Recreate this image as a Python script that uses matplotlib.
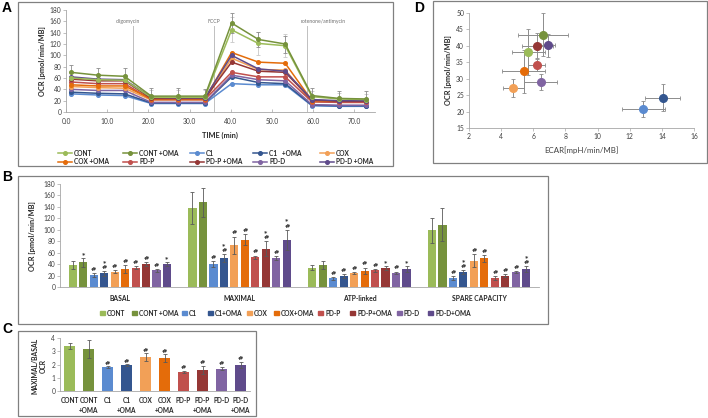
import matplotlib
matplotlib.use('Agg')
import matplotlib.pyplot as plt
from matplotlib.patches import Rectangle
from matplotlib.lines import Line2D
import numpy as np

# ---------------- DATA ----------------
groups = ['CONT', 'CONT +OMA', 'C1', 'C1 +OMA', 'COX', 'COX +OMA',
          'PD-P', 'PD-P +OMA', 'PD-D', 'PD-D +OMA']
legendA_labels = ['CONT', 'CONT +OMA', 'C1', 'C1   +OMA', 'COX',
                  'COX +OMA', 'PD-P', 'PD-P +OMA', 'PD-D', 'PD-D +OMA']
legendB_labels = ['CONT', 'CONT +OMA', 'C1', 'C1+OMA', 'COX', 'COX+OMA',
                  'PD-P', 'PD-P+OMA', 'PD-D', 'PD-D+OMA']
colors = ['#9BBB59', '#76923C', '#5B8BD0', '#34568F', '#F2A057', '#E46C0A',
          '#C0504D', '#953735', '#8064A2', '#5F4B8B']

# Panel A: OCR time course
times = [1.2, 7.7, 14.2, 20.7, 27.2, 33.7, 40.2, 46.7, 53.2, 59.7, 66.2, 72.7]
A_cont      = [60, 57, 56, 26, 26, 26, 145, 121, 117, 27, 23, 22]
A_cont_oma  = [70, 65, 63, 28, 28, 28, 157, 128, 120, 29, 24, 23]
A_c1        = [32, 30, 29, 15, 15, 15, 50, 48, 48, 11, 10, 10]
A_c1_oma    = [35, 33, 32, 16, 16, 16, 62, 52, 50, 12, 11, 11]
A_cox       = [45, 43, 42, 21, 21, 21, 95, 75, 74, 18, 17, 17]
A_cox_oma   = [48, 46, 46, 23, 23, 23, 105, 88, 86, 20, 19, 19]
A_pdp       = [53, 50, 50, 22, 22, 22, 70, 62, 62, 18, 17, 17]
A_pdp_oma   = [58, 55, 55, 24, 24, 24, 88, 72, 70, 21, 19, 19]
A_pdd       = [40, 38, 38, 17, 17, 17, 65, 57, 55, 13, 12, 12]
A_pdd_oma   = [62, 58, 57, 26, 25, 25, 100, 76, 72, 22, 20, 20]
A_cont_err     = [10, 10, 10, 12, 12, 12, 22, 20, 20, 10, 10, 10]
A_cont_oma_err = [13, 13, 14, 14, 14, 13, 18, 14, 15, 14, 13, 14]
injections = [16.2, 36.0, 58.5]
injection_labels = ['oligomycin', 'FCCP', 'rotenone/antimycin']
injection_label_x = [15.0, 36.0, 62.5]

# Panel B: bars per parameter
B_categories = ['BASAL', 'MAXIMAL', 'ATP-linked', 'SPARE CAPACITY']
B_basal     = [38, 43, 21, 24, 27, 32, 34, 40, 29, 40]
B_basal_err = [7, 8, 3, 4, 3, 7, 2, 3, 2, 3]
B_max       = [138, 148, 40, 50, 73, 83, 52, 67, 51, 82]
B_max_err   = [28, 25, 5, 7, 15, 10, 3, 13, 3, 18]
B_atp       = [34, 38, 15, 19, 24, 28, 29, 33, 25, 31]
B_atp_err   = [5, 7, 2, 3, 2, 6, 2, 4, 2, 5]
B_spare     = [99, 109, 16, 26, 46, 50, 16, 20, 26, 32]
B_spare_err = [22, 29, 3, 4, 11, 6, 3, 3, 2, 5]
B_sig_basal = ['', '*', '#', '#*', '#', '#', '#', '#', '#', '*']
B_sig_max   = ['', '', '#', '#*', '#', '#', '#', '#*', '#', '#*']
B_sig_atp   = ['', '', '#', '#', '#', '#', '#', '*', '#', '*']
B_sig_spare = ['', '', '#', '#*', '#', '#', '#', '#', '#', '#*']

# Panel C: maximal/basal ratio
C_labels = ['CONT', 'CONT\n+OMA', 'C1', 'C1\n+OMA', 'COX', 'COX\n+OMA',
            'PD-P', 'PD-P\n+OMA', 'PD-D', 'PD-D\n+OMA']
C_vals = [3.40, 3.18, 1.78, 1.97, 2.54, 2.46, 1.44, 1.60, 1.68, 1.95]
C_err  = [0.25, 0.70, 0.08, 0.05, 0.30, 0.30, 0.08, 0.30, 0.12, 0.25]
C_sig  = ['', '', '#', '#', '#', '#', '#', '#', '#', '#']

# Panel D: OCR vs ECAR
D_ecar     = [5.7, 6.6, 12.85, 14.05, 4.75, 5.4, 6.2, 6.25, 6.45, 6.9]
D_ecar_err = [1.05, 1.55, 1.35, 1.1, 0.65, 1.35, 0.5, 0.95, 1.0, 0.45]
D_ocr      = [38.0, 43.4, 20.8, 24.2, 27.1, 32.3, 34.3, 40.0, 29.0, 40.2]
D_ocr_err  = [7.0, 6.6, 2.5, 4.1, 2.7, 6.5, 1.8, 3.8, 2.3, 3.5]

# ---------------- FIGURE ----------------
plt.rcParams['font.family'] = ['Lato', 'DejaVu Sans']
W, H = 708, 418
fig = plt.figure(figsize=(W / 100, H / 100), dpi=100)

TXT = '#404040'
AX = '#a6a6a6'


def fx(x):
    return x / W


def fy(y):
    return 1 - y / H


def px_axes(x0, y0, x1, y1):
    return fig.add_axes([x0 / W, 1 - y1 / H, (x1 - x0) / W, (y1 - y0) / H])


def box(x0, y0, x1, y1):
    fig.patches.append(Rectangle((fx(x0), fy(y1)), (x1 - x0) / W, (y1 - y0) / H,
                                 fill=False, ec='#808080', lw=0.9,
                                 transform=fig.transFigure))


def style(ax, fs=4.8):
    for s in ['top', 'right']:
        ax.spines[s].set_visible(False)
    for s in ['left', 'bottom']:
        ax.spines[s].set_color(AX)
        ax.spines[s].set_linewidth(0.6)
    ax.tick_params(axis='both', labelsize=fs, colors=AX, labelcolor=TXT,
                   length=2, width=0.5, pad=1.5)
    ax.set_facecolor('none')


def sig_text(ax, x, y, s):
    # stacked significance marks, first char at bottom
    ax.text(x, y, '\n'.join(reversed(list(s))), fontsize=4.6, ha='center',
            va='bottom', color='#303030', family=['DejaVu Sans'],
            fontweight='bold', linespacing=1.0, multialignment='center')


box(18, 2, 393, 166)
box(18, 176, 548, 324)
box(18, 331, 256, 416)
box(433, 1, 707, 163)

for letter, x, y in [('A', 7, 8), ('B', 7, 177), ('C', 7, 329), ('D', 419, 8)]:
    fig.text(fx(x), fy(y), letter, fontsize=10, fontweight='bold',
             family=['Liberation Sans', 'DejaVu Sans'], ha='center', va='center')

# ---------- Panel A ----------
axA = px_axes(66, 10, 375, 112)
A_series = [A_cont, A_cont_oma, A_c1, A_c1_oma, A_cox, A_cox_oma,
            A_pdp, A_pdp_oma, A_pdd, A_pdd_oma]
axA.errorbar(times, A_cont, yerr=A_cont_err, fmt='none', ecolor='#c8c8c8',
             elinewidth=0.6, capsize=1.6, capthick=0.6, zorder=1)
axA.errorbar(times, A_cont_oma, yerr=A_cont_oma_err, fmt='none', ecolor='#8c8c8c',
             elinewidth=0.6, capsize=1.6, capthick=0.6, zorder=1)
draw_order = [2, 3, 8, 4, 6, 5, 7, 9, 0, 1]
for i in draw_order:
    axA.plot(times, A_series[i], color=colors[i], lw=1.1, marker='o', ms=2.6,
             zorder=3)
for xi, lab, lx in zip(injections, injection_labels, injection_label_x):
    axA.axvline(xi, ymin=0, ymax=0.84, color='#c0c0c0', lw=0.7, zorder=0)
    axA.text(lx, 159, lab, fontsize=3.7, color='#707070', ha='center', va='center')
axA.set_xlim(0, 75)
axA.set_ylim(0, 180)
axA.set_xticks([0, 10, 20, 30, 40, 50, 60, 70])
axA.set_xticklabels(['%.1f' % t for t in [0, 10, 20, 30, 40, 50, 60, 70]])
axA.set_yticks(range(0, 181, 20))
style(axA)
axA.tick_params(axis='x', direction='in', pad=4)
fig.text(fx(42), fy(61), 'OCR [pmol/min/MB]', rotation=90, fontsize=5.3,
         fontweight='bold', ha='center', va='center', color='#262626')
fig.text(fx(220), fy(135), 'TIME (min)', fontsize=5.3, fontweight='bold',
         ha='center', va='center', color='#262626')

legA_x = [58, 123, 190, 253, 320]
legA_y = [153, 162]
for i, lab in enumerate(legendA_labels):
    x0 = legA_x[i % 5]
    y0 = legA_y[i // 5]
    fig.add_artist(Line2D([fx(x0), fx(x0 + 14)], [fy(y0), fy(y0)], color=colors[i],
                          lw=1.1, transform=fig.transFigure))
    fig.add_artist(Line2D([fx(x0 + 7)], [fy(y0)], color=colors[i], marker='o',
                          ms=2.6, transform=fig.transFigure))
    fig.text(fx(x0 + 16), fy(y0), lab, fontsize=4.7, fontweight='bold',
             ha='left', va='center', color='#262626')

# ---------- Panel B ----------
axB = px_axes(60, 184, 539, 287)
B_vals = [B_basal, B_max, B_atp, B_spare]
B_errs = [B_basal_err, B_max_err, B_atp_err, B_spare_err]
B_sigs = [B_sig_basal, B_sig_max, B_sig_atp, B_sig_spare]
centers = np.arange(len(B_categories))
pitch = 0.0875
bw = 0.068
for i in range(10):
    xs = centers + (i - 4.5) * pitch
    vals = [v[i] for v in B_vals]
    errs = [e[i] for e in B_errs]
    axB.bar(xs, vals, bw, yerr=errs, color=colors[i],
            error_kw=dict(ecolor='#595959', elinewidth=0.6, capsize=1.5, capthick=0.6))
    for xx, v, e, s in zip(xs, vals, errs, [sg[i] for sg in B_sigs]):
        if s:
            sig_text(axB, xx, v + e + 2, s)
axB.set_xlim(-0.5, 3.5)
axB.set_ylim(0, 180)
axB.set_yticks(range(0, 181, 20))
axB.set_xticks(centers)
axB.set_xticklabels(B_categories, fontweight='bold')
style(axB)
axB.tick_params(axis='x', length=0, pad=6, labelsize=4.9, labelcolor='#262626')
fig.text(fx(33), fy(236), 'OCR [pmol/min/MB]', rotation=90, fontsize=5.3,
         fontweight='bold', ha='center', va='center', color='#262626')

legB_x = [100, 132, 182, 208, 247, 274, 318, 350, 397, 428]
for i, lab in enumerate(legendB_labels):
    x0 = legB_x[i]
    fig.patches.append(Rectangle((fx(x0), fy(313 + 2.3)), 4.6 / W, 4.6 / H,
                                 color=colors[i], transform=fig.transFigure))
    fig.text(fx(x0 + 7), fy(313), lab, fontsize=4.7, fontweight='bold',
             ha='left', va='center', color='#262626')

# ---------- Panel C ----------
axC = px_axes(60, 338, 250, 391)
xc = np.arange(len(C_vals))
axC.bar(xc, C_vals, 0.63, yerr=C_err, color=colors,
        error_kw=dict(ecolor='#595959', elinewidth=0.6, capsize=1.5, capthick=0.6))
for xx, v, e, s in zip(xc, C_vals, C_err, C_sig):
    if s:
        sig_text(axC, xx, v + e + 0.05, s)
axC.set_xlim(-0.5, 9.5)
axC.set_ylim(0, 4)
axC.set_yticks(range(0, 5))
axC.set_xticks(xc)
axC.set_xticklabels(C_labels, fontweight='bold', linespacing=1.5)
style(axC)
axC.tick_params(axis='x', length=0, pad=4, labelsize=4.7, labelcolor='#262626')
fig.text(fx(39), fy(366), 'MAXIMAL/BASAL\nOCR', rotation=90, fontsize=4.9,
         fontweight='bold', ha='center', va='center', color='#262626',
         multialignment='center', linespacing=1.3)

# ---------- Panel D ----------
axD = px_axes(469, 13, 694, 128)
for i in range(10):
    axD.errorbar(D_ecar[i], D_ocr[i], xerr=D_ecar_err[i], yerr=D_ocr_err[i],
                 fmt='none', ecolor='#8c8c8c', elinewidth=0.7, capsize=1.6,
                 capthick=0.6, zorder=1)
for i in range(10):
    axD.plot(D_ecar[i], D_ocr[i], 'o', color=colors[i], ms=5.5, mec=colors[i],
             zorder=3)
axD.set_xlim(2, 16)
axD.set_ylim(15, 50)
axD.set_xticks(range(2, 17, 2))
axD.set_yticks(range(15, 51, 5))
style(axD, fs=4.9)
fig.text(fx(448), fy(70), 'OCR [pmol/min/MB]', rotation=90, fontsize=5.3,
         fontweight='bold', ha='center', va='center', color='#262626')
fig.text(fx(581), fy(150), 'ECAR[mpH/min/MB]', fontsize=5.7,
         ha='center', va='center', color='#404040')

fig.savefig('out.png', dpi=100)
